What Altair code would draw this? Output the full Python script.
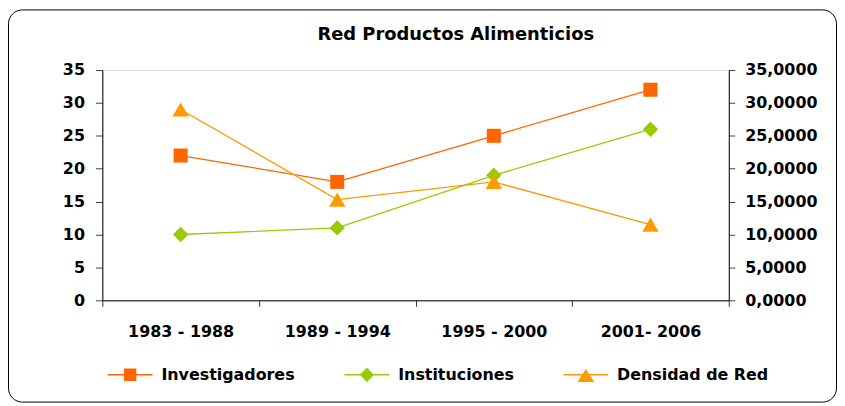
import altair as alt
import pandas as pd

# ---- data ----
periodos = ["1983 - 1988", "1989 - 1994", "1995 - 2000", "2001- 2006"]
series_names = ["Investigadores", "Instituciones", "Densidad de Red"]
investigadores = [22, 18, 25, 32]
instituciones = [10, 11, 19, 26]
densidad_red = [29.0, 15.3, 18.0, 11.5]
y_ticks = [0, 5, 10, 15, 20, 25, 30, 35]

colors = ["#FF6600", "#99CC00", "#FF9900"]

rows = []
for name, vals in zip(series_names, [investigadores, instituciones, densidad_red]):
    for p, v in zip(periodos, vals):
        rows.append({"periodo": p, "serie": name, "valor": v})
df = pd.DataFrame(rows)
df_inv = df[df.serie == "Investigadores"]
df_inst = df[df.serie == "Instituciones"]
df_dens = df[df.serie == "Densidad de Red"]

FONT = "DejaVu Sans"
W, H = 631, 232

x_enc = alt.X(
    "periodo:N",
    sort=periodos,
    scale=alt.Scale(type="band", domain=periodos, paddingInner=0, paddingOuter=0),
    bandPosition=0.5,
    axis=alt.Axis(
        title=None, tickBand="extent", labelAngle=0, tickSize=6, labelPadding=30,
        labelBaseline="alphabetic", labelFontSize=16, labelFontWeight="bold",
        labelFont=FONT, labelColor="#000", domainColor="#000", tickColor="#333",
        grid=False,
    ),
)

y_left = alt.Y(
    "valor:Q",
    scale=alt.Scale(domain=[0, 35], nice=False, zero=True),
    axis=alt.Axis(
        title=None, orient="left", values=y_ticks, format="d", tickSize=7,
        labelPadding=11, labelFontSize=16, labelFontWeight="bold", labelFont=FONT,
        labelColor="#000", domainColor="#000", tickColor="#444", grid=False,
    ),
)
y_right = alt.Y(
    "valor:Q",
    scale=alt.Scale(domain=[0, 35], nice=False, zero=True),
    axis=alt.Axis(
        title=None, orient="right", values=y_ticks,
        labelExpr="replace(format(datum.value, '.4f'), '.', ',')",
        tickSize=6, labelPadding=10, labelFontSize=16, labelFontWeight="bold",
        labelFont=FONT, labelColor="#000", domainColor="#000", tickColor="#444",
        grid=False,
    ),
)

def line(data, color, y):
    return alt.Chart(data).mark_line(color=color, strokeWidth=1.3).encode(x=x_enc, y=y)

def pts(data, color, shape, size, y):
    return alt.Chart(data).mark_point(
        shape=shape, size=size, filled=True, color=color, opacity=1
    ).encode(x=x_enc, y=y)

legend_paths = [
    "M-4.1,0H4.1M-1,-1H1V1H-1Z",
    "M-4.1,0H4.1M0,-1.15L1.1,0L0,1.15L-1.1,0Z",
    "M-4.1,0H4.1M0,-0.8L1.27,1.2L-1.27,1.2Z",
]
legend_x = [20, 258.5, 479]

def legend_entry(i):
    name = series_names[i]
    leg = alt.Legend(
        orient="none", legendX=legend_x[i], legendY=299, direction="horizontal",
        title=None, symbolSize=121, labelOffset=23.5, padding=0,
        labelFontSize=16, labelFont=FONT, labelFontWeight="bold", labelColor="#000",
        symbolType=legend_paths[i], symbolFillColor=colors[i],
        symbolStrokeColor=colors[i], symbolStrokeWidth=1.5, symbolOpacity=1,
        labelLimit=300,
    )
    return alt.Chart(df[df.serie == name]).mark_point(filled=True, opacity=0).encode(
        color=alt.Color("serie:N", scale=alt.Scale(domain=[name], range=[colors[i]]), legend=leg)
    )

left = alt.layer(
    line(df_inst, colors[1], y_left),
    line(df_inv, colors[0], y_left),
    pts(df_inst, colors[1], "diamond", 240, y_left),
    pts(df_inv, colors[0], "square", 200, y_left),
)
right = alt.layer(
    line(df_dens, colors[2], y_right),
    pts(df_dens, colors[2], "triangle-up", 270, y_right),
)

border = alt.Chart(alt.Data(values=[{}])).mark_rect(
    fill="transparent", stroke="#000", strokeWidth=1, cornerRadius=14
).encode(
    x=alt.value(-94.5), x2=alt.value(739.5), y=alt.value(-60.5), y2=alt.value(334.5)
)

chart = alt.layer(
    border, left, right, legend_entry(0), legend_entry(1), legend_entry(2)
).resolve_scale(y="independent", color="independent").properties(
    width=W,
    height=H,
    padding={"left": 95, "top": 61, "right": 109, "bottom": 103},
    autosize=alt.AutoSizeParams(type="none"),
    title=alt.TitleParams(
        "Red Productos Alimenticios", font=FONT, fontSize=18, fontWeight="bold",
        color="#000", anchor="middle", frame="group", dx=40.5, offset=-49,
        baseline="alphabetic",
    ),
).configure_view(
    fill="#FFFF99", stroke="#808080", strokeWidth=1
).configure(background="white")

chart.save("out.html", embed_options={"renderer": "svg", "actions": False})
